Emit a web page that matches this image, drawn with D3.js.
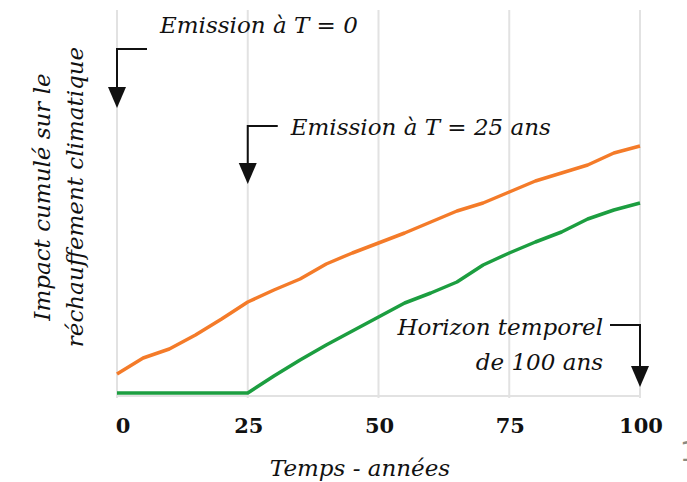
<!DOCTYPE html>
<html>
<head>
<meta charset="utf-8">
<script src="https://cdn.jsdelivr.net/npm/d3@7"></script>
<style>
  html, body { margin: 0; padding: 0; background: #fff; }
  svg { display: block; }
</style>
</head>
<body>
<div id="chart"></div>
<script>
// Data (years, cumulative impact in arbitrary units)
const years = [0, 5, 10, 15, 20, 25, 30, 35, 40, 45, 50, 55, 60, 65, 70, 75, 80, 85, 90, 95, 100];
const emissionT0 = [19, 35, 44, 58, 74, 91, 103, 114, 129, 140, 150, 160, 171, 182, 190, 201, 212, 220, 228, 240, 247];
const emissionT25 = [0, 0, 0, 0, 0, 0, 17, 33, 48, 62, 76, 90, 100, 111, 128, 140, 151, 161, 174, 183, 190];
const xTicks = [0, 25, 50, 75, 100];

const annotations = [
  { x: 0, lines: ["Emission à T = 0"], anchor: "start" },
  { x: 25, lines: ["Emission à T = 25 ans"], anchor: "start" },
  { x: 100, lines: ["Horizon temporel", "de 100 ans"], anchor: "end" }
];

// Constants
const WIDTH = 687;
const HEIGHT = 482;
const MARGIN = { top: 10, right: 47, bottom: 86, left: 117 };
const SERIF = "'DejaVu Serif', serif";
const ITALIC_SIZE = 23;
const ORANGE = "#f47b29";
const GREEN = "#1c9e40";
const GRID = "#e2e2e2";

const xScale = d3.scaleLinear().domain([0, 100]).range([MARGIN.left, WIDTH - MARGIN.right]);
const yScale = d3.scaleLinear().domain([-3, 383]).range([HEIGHT - MARGIN.bottom, MARGIN.top]);

const svg = d3.select("#chart").append("svg")
  .attr("width", WIDTH)
  .attr("height", HEIGHT);

// Grid
svg.append("g").selectAll("line")
  .data(xTicks)
  .enter().append("line")
  .attr("x1", d => xScale(d))
  .attr("x2", d => xScale(d))
  .attr("y1", yScale.range()[1])
  .attr("y2", yScale.range()[0] + 2)
  .attr("stroke", GRID)
  .attr("stroke-width", 2);

svg.append("line")
  .attr("x1", xScale(0))
  .attr("x2", xScale(100))
  .attr("y1", yScale(-3))
  .attr("y2", yScale(-3))
  .attr("stroke", GRID)
  .attr("stroke-width", 2);

// Tick labels
svg.append("g").selectAll("text")
  .data(xTicks)
  .enter().append("text")
  .attr("x", d => xScale(d) + (d === 0 ? 6 : 1))
  .attr("y", 433)
  .attr("text-anchor", "middle")
  .attr("font-family", SERIF)
  .attr("font-weight", "bold")
  .attr("font-size", 21)
  .attr("fill", "#111")
  .text(d => d);

// Axis titles
svg.append("text")
  .attr("x", 360)
  .attr("y", 476)
  .attr("text-anchor", "middle")
  .attr("font-family", SERIF)
  .attr("font-style", "italic")
  .attr("font-size", ITALIC_SIZE)
  .attr("fill", "#111")
  .text("Temps - années");

const yTitle = svg.append("text")
  .attr("transform", "translate(0,197) rotate(-90)")
  .attr("text-anchor", "middle")
  .attr("font-family", SERIF)
  .attr("font-style", "italic")
  .attr("font-size", ITALIC_SIZE)
  .attr("fill", "#111");
["Impact cumulé sur le", "réchauffement climatique"].forEach((t, i) => {
  yTitle.append("tspan").attr("x", 0).attr("y", 50 + i * 33).text(t);
});

// Lines
const line = (vals) => d3.line()
  .x((d, i) => xScale(years[i]))
  .y(d => yScale(d))(vals);

svg.append("path")
  .attr("d", line(emissionT0))
  .attr("fill", "none")
  .attr("stroke", ORANGE)
  .attr("stroke-width", 3.5)
  .attr("stroke-linejoin", "round");

svg.append("path")
  .attr("d", line(emissionT25))
  .attr("fill", "none")
  .attr("stroke", GREEN)
  .attr("stroke-width", 3.5)
  .attr("stroke-linejoin", "round");

// Annotation arrows
const arrows = [
  { x: 0, yTop: 49, yTip: 108, dir: 1, text: [33] },
  { x: 25, yTop: 126, yTip: 184, dir: 1, text: [135] },
  { x: 100, yTop: 325, yTip: 387, dir: -1, text: [335, 370] }
];

arrows.forEach((a, k) => {
  const ax = xScale(a.x);
  const g = svg.append("g");
  g.append("path")
    .attr("d", `M${ax + a.dir * 30},${a.yTop}H${ax}V${a.yTip - 18}`)
    .attr("fill", "none")
    .attr("stroke", "#111")
    .attr("stroke-width", 2);
  g.append("path")
    .attr("d", `M${ax - 9},${a.yTip - 21}L${ax + 9},${a.yTip - 21}L${ax},${a.yTip}Z`)
    .attr("fill", "#111");

  const ann = annotations[k];
  const tx = ann.anchor === "start" ? ax + a.dir * 43 : ax - 37;
  ann.lines.forEach((t, i) => {
    g.append("text")
      .attr("x", tx)
      .attr("y", a.text[i])
      .attr("text-anchor", ann.anchor)
      .attr("font-family", SERIF)
      .attr("font-style", "italic")
      .attr("font-size", ITALIC_SIZE)
      .attr("fill", "#111")
      .text(t);
  });
});

// stray page number fragment at the right edge (cut off in the original too)
svg.append("text")
  .attr("x", 680)
  .attr("y", 461)
  .attr("font-family", "'DejaVu Sans', sans-serif")
  .attr("font-size", 26)
  .attr("fill", "#8a8a80")
  .text("1");
</script>
</body>
</html>
